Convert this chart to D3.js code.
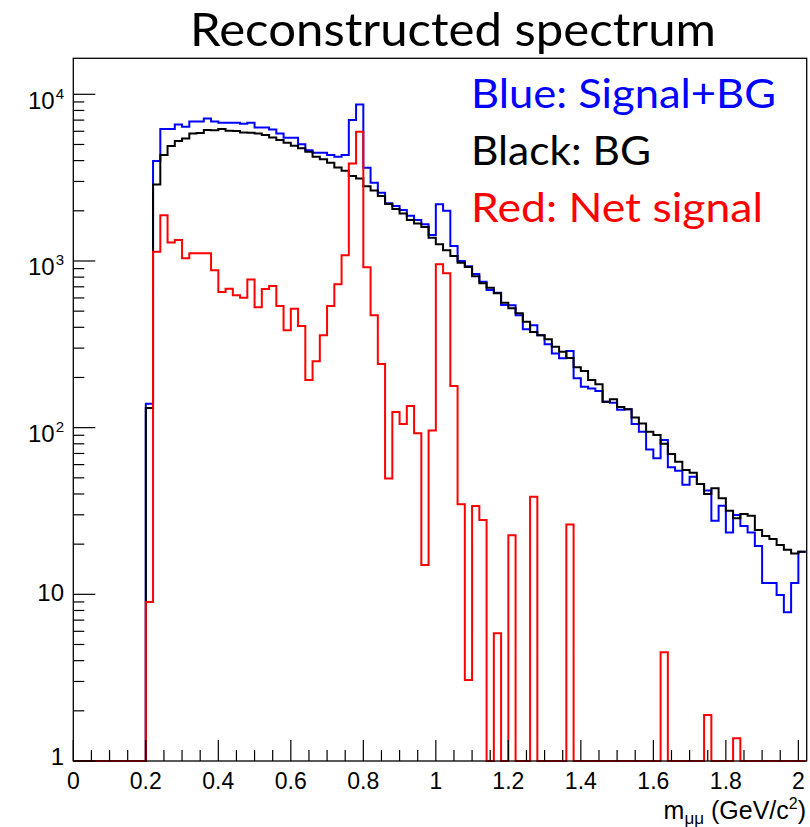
<!DOCTYPE html>
<html>
<head>
<meta charset="utf-8">
<script src="https://cdn.jsdelivr.net/npm/d3@7"></script>
<style>
  body { margin: 0; background: #fff; }
  svg { display: block; }
</style>
</head>
<body>
<svg id="chart" width="810" height="827"></svg>
<script>
// Dimuon invariant-mass histograms, 0.02 GeV/c^2 bins starting at 0
const binLow = 0;
const binWidth = 0.02;

// Signal + background (counts per bin)
const signalPlusBg = [
  0, 0, 0, 0, 0, 0, 0, 0, 0, 0,
  139, 3980, 6190, 6190, 6590, 6380, 6870, 6870, 7160, 6870,
  6750, 6750, 6750, 6650, 6750, 6330, 6330, 6150, 5820, 5480,
  5480, 5010, 4620, 4460, 4460, 4320, 4220, 4320, 7000, 8690,
  3620, 2950, 2570, 2220, 2140, 2020, 1870, 1760, 1660, 1430,
  2190, 2000, 1230, 1000, 931, 834, 750, 669, 644, 544,
  543, 473, 389, 412, 359, 317, 279, 261, 288, 198,
  176, 172, 166, 143, 141, 128, 129, 105, 94.6, 74,
  65.5, 84.3, 57.8, 55.2, 45.5, 50.8, 45.9, 42, 27.6, 34,
  23.5, 29.9, 25.7, 23.5, 19.5, 11.7, 11.7, 9.9, 7.8, 11.7,
  18.0
];

// Background only
const background = [
  0, 0, 0, 0, 0, 0, 0, 0, 0, 0,
  131, 2880, 4320, 4890, 5240, 5430, 5820, 5850, 6100, 6080,
  6190, 6040, 6020, 5900, 5880, 5820, 5690, 5510, 5310, 5120,
  4910, 4740, 4520, 4220, 4070, 3880, 3640, 3475, 3230, 3125,
  2810, 2650, 2450, 2200, 2050, 1930, 1760, 1680, 1600, 1380,
  1260, 1160, 1070, 975, 920, 810, 735, 690, 640, 561,
  520, 485, 432, 375, 359, 339, 306, 285, 262, 230,
  219, 193, 182, 143, 148, 133, 129, 115, 106, 94.6,
  90.3, 80, 69.5, 62.5, 55.7, 53.7, 45.9, 40, 43.3, 37.7,
  31.7, 28.6, 30.3, 29.6, 24.3, 22.4, 21.5, 19.8, 18.5, 17.6,
  18.0
];

// Net signal (signal + background minus background)
const netSignal = [
  0, 0, 0, 0, 0, 0, 0, 0, 0, 0,
  9, 1136, 1884, 1292, 1334, 1037, 1111, 1111, 1111, 881,
  651, 681, 622, 602, 775, 527, 678, 707, 536, 384,
  517, 407, 193, 250, 358, 536, 724, 1084, 3848, 5960,
  916, 473, 241, 49.6, 124, 105, 135, 92.4, 15, 96,
  955, 843, 178, 34.7, 3.06, 33.9, 27.9, 0, 5.84, 0,
  22.6, 0, 0, 38.5, 0, 0, 0, 0, 26.2, 0,
  0, 0, 0, 0, 0, 0, 0, 0, 0, 0,
  0, 4.5, 0, 0, 0, 0, 0, 1.89, 0, 0,
  0, 1.37, 0, 0, 0, 0, 0, 0, 0, 0,
  0
];

// Axis ticks and labels
const xMajorTicks = [0, 0.2, 0.4, 0.6, 0.8, 1.0, 1.2, 1.4, 1.6, 1.8, 2.0];
const xMajorLabels = ["0", "0.2", "0.4", "0.6", "0.8", "1", "1.2", "1.4", "1.6", "1.8", "2"];
const xMinorStep = 0.05;
const yMajorTicks = [1, 10, 100, 1000, 10000];
const yLabelBase = ["1", "10", "10", "10", "10"];
const yLabelExp = ["", "", "2", "3", "4"];

const legendLabels = ["Blue: Signal+BG", "Black: BG", "Red: Net signal"];
const legendColors = ["#0000ff", "#000000", "#ff0000"];
const titleText = "Reconstructed spectrum";

// Frame geometry
const frame = { left: 73.3, right: 806.7, top: 58.3, bottom: 761 };
const xMax = 2.023;
const yMax = Math.pow(10, 4.216);

const svg = d3.select("#chart");

const x = d3.scaleLinear().domain([0, xMax]).range([frame.left, frame.right]);
const y = d3.scaleLog().domain([1, yMax]).range([frame.bottom, frame.top]).clamp(true);

// Step outline of a histogram
function stepPoints(values) {
  const pts = [];
  values.forEach((v, i) => {
    const lo = binLow + i * binWidth;
    const hi = lo + binWidth;
    pts.push([lo, v], [hi, v]);
  });
  return pts;
}

const line = d3.line()
  .x(d => x(d[0]))
  .y(d => y(Math.max(d[1], 1)));

const series = [
  { values: signalPlusBg, color: "#0000ff" },
  { values: background, color: "#000000" },
  { values: netSignal, color: "#ff0000" }
];

const plot = svg.append("g");
plot.selectAll("path.hist")
  .data(series)
  .join("path")
  .attr("class", "hist")
  .attr("d", d => line(stepPoints(d.values)))
  .attr("fill", "none")
  .attr("stroke", d => d.color)
  .attr("stroke-width", 2)
  .attr("stroke-linejoin", "miter");

// Frame
svg.append("rect")
  .attr("x", frame.left).attr("y", frame.top)
  .attr("width", frame.right - frame.left)
  .attr("height", frame.bottom - frame.top)
  .attr("fill", "none")
  .attr("stroke", "#000")
  .attr("stroke-width", 1.3);

// X ticks
const xMinor = d3.range(0, xMax + 1e-9, xMinorStep).filter(v => !xMajorTicks.some(m => Math.abs(m - v) < 1e-6));
const axisG = svg.append("g").attr("stroke", "#000").attr("stroke-width", 1.2);
axisG.selectAll("line.xmaj").data(xMajorTicks).join("line")
  .attr("x1", d => x(d)).attr("x2", d => x(d))
  .attr("y1", frame.bottom).attr("y2", frame.bottom - 21);
axisG.selectAll("line.xmin").data(xMinor).join("line")
  .attr("x1", d => x(d)).attr("x2", d => x(d))
  .attr("y1", frame.bottom).attr("y2", frame.bottom - 11);

// Y ticks
const yMinor = [];
yMajorTicks.forEach(m => { for (let k = 2; k <= 9; k++) if (m * k <= yMax) yMinor.push(m * k); });
axisG.selectAll("line.ymaj").data(yMajorTicks).join("line")
  .attr("x1", frame.left).attr("x2", frame.left + 22)
  .attr("y1", d => y(d)).attr("y2", d => y(d));
axisG.selectAll("line.ymin").data(yMinor).join("line")
  .attr("x1", frame.left).attr("x2", frame.left + 11)
  .attr("y1", d => y(d)).attr("y2", d => y(d));

// X tick labels
svg.selectAll("text.xl").data(xMajorTicks).join("text")
  .attr("class", "xl")
  .attr("x", d => x(d))
  .attr("y", 789)
  .attr("text-anchor", "middle")
  .attr("font-family", "'Liberation Sans', Arial, sans-serif")
  .attr("font-size", 23)
  .text((d, i) => xMajorLabels[i]);

// Y tick labels with exponents
const yBaseOffset = [4, 7, 14, 14, 15];
yMajorTicks.forEach((v, i) => {
  const t = svg.append("text")
    .attr("x", 64)
    .attr("y", y(v) + yBaseOffset[i])
    .attr("text-anchor", "end")
    .attr("font-family", "'Liberation Sans', Arial, sans-serif")
    .attr("font-size", 24);
  t.append("tspan").text(yLabelBase[i]);
  if (yLabelExp[i]) {
    t.append("tspan").attr("font-size", 15).attr("dy", -10).attr("dx", 1).text(yLabelExp[i]);
  }
});

// X axis title
const xt = svg.append("text")
  .attr("x", 806).attr("y", 819)
  .attr("text-anchor", "end")
  .attr("font-family", "'Liberation Sans', Arial, sans-serif")
  .attr("font-size", 25);
xt.append("tspan").text("m");
xt.append("tspan").attr("font-size", 17).attr("dy", 5).text("μμ");
xt.append("tspan").attr("dy", -5).text(" (GeV/c");
xt.append("tspan").attr("font-size", 16).attr("dy", -10).text("2");
xt.append("tspan").attr("dy", 10).text(")");

// Title
svg.append("text")
  .attr("x", 190).attr("y", 46)
  .attr("font-family", "Lato, 'Open Sans', sans-serif")
  .attr("font-size", 47)
  .attr("textLength", 526)
  .attr("lengthAdjust", "spacingAndGlyphs")
  .text(titleText);

// Legend text
const legendBaselines = [108, 165, 222];
const legendWidths = [305, 180, 292];
svg.selectAll("text.leg").data(legendLabels).join("text")
  .attr("class", "leg")
  .attr("x", 471)
  .attr("y", (d, i) => legendBaselines[i])
  .attr("fill", (d, i) => legendColors[i])
  .attr("font-family", "Lato, 'Open Sans', sans-serif")
  .attr("font-size", 41)
  .attr("textLength", (d, i) => legendWidths[i])
  .attr("lengthAdjust", "spacingAndGlyphs")
  .text(d => d);
</script>
</body>
</html>
